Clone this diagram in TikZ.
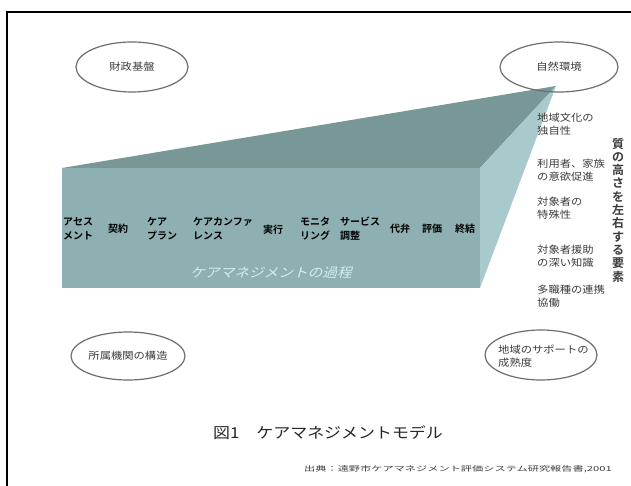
\documentclass[tikz,border=0pt]{standalone}
\usepackage{fontspec}
\usetikzlibrary{shapes.geometric}
\setmainfont{Noto Sans CJK JP}
\newfontfamily\cjk[BoldFont={Noto Sans CJK JP Bold}]{Noto Sans CJK JP}
\newfontfamily\cjkit[FakeSlant=0.25]{Noto Sans CJK JP}
\definecolor{topc}{RGB}{122,151,152}
\definecolor{frontc}{RGB}{143,176,178}
\definecolor{sidec}{RGB}{168,202,204}
\definecolor{ovlc}{RGB}{208,240,242}
\definecolor{ellc}{RGB}{110,110,110}
\definecolor{txtc}{RGB}{60,60,60}
\newcommand{\sx}[1]{\scalebox{1.13}[1]{#1}}
\newcommand{\twol}[2]{\sx{\begin{tabular}{@{}l@{}}#1\\#2\end{tabular}}}
\tikzset{
  ell/.style={ellipse, draw=ellc, line width=1.2pt, inner sep=0pt, text=txtc,
    font=\fontsize{10}{13}\selectfont\cjk},
  item/.style={anchor=west, inner sep=0pt, text=black,
    font=\fontsize{10}{14}\selectfont\cjk\bfseries},
  factor/.style={anchor=west, inner sep=0pt, text=txtc,
    font=\fontsize{10}{13}\selectfont\cjk},
}
\begin{document}
\begin{tikzpicture}[x=1pt,y=-1pt]
\useasboundingbox (0,0) rectangle (631,486);
\fill[white] (0,0) rectangle (631,486);
\draw[line width=1.5pt] (7,486) -- (7,12) -- (631,12);

% prism
\coordinate (A) at (62,168);
\coordinate (B) at (480,168);
\coordinate (C) at (480,288);
\coordinate (P) at (556,86);
\fill[topc] (A) -- (P) -- (B) -- cycle;
\fill[sidec] (B) -- (P) -- (C) -- cycle;
\fill[frontc] (A) rectangle (C);

% process items
\node[item] (i1) at (63,230) {\begin{tabular}{@{}l@{}}アセス\\メント\end{tabular}};
\node[item] (i2) at (108,229) {契約};
\node[item] (i3) at (147,230) {\begin{tabular}{@{}l@{}}ケア\\プラン\end{tabular}};
\node[item] (i4) at (193,230) {\begin{tabular}{@{}l@{}}ケアカンファ\\レンス\end{tabular}};
\node[item] (i5) at (263,230) {実行};
\node[item] (i6) at (300,230) {\begin{tabular}{@{}l@{}}モニタ\\リング\end{tabular}};
\node[item] (i7) at (340,230) {\begin{tabular}{@{}l@{}}サービス\\調整\end{tabular}};
\node[item] (i8) at (390,229) {代弁};
\node[item] (i9) at (422,229) {評価};
\node[item] (i10) at (455,229) {終結};

\node[inner sep=0pt, text=ovlc, font=\fontsize{13}{15}\selectfont\cjkit] (ovl) at (271,273) {\sx{ケアマネジメントの過程}};

% ellipses
\node[ell, minimum width=112pt, minimum height=50pt] (e1) at (132,67) {\sx{財政基盤}};
\node[ell, minimum width=118pt, minimum height=50pt] (e2) at (559,67) {\sx{自然環境}};
\node[ell, minimum width=114pt, minimum height=48pt] (e3) at (128,356) {\sx{所属機関の構造}};
\node[ell, minimum width=112pt, minimum height=50pt] (e4) at (541,355) {};
\node[factor] (e4t) at (498,357) {\twol{地域のサポートの}{成熟度}};

% factors
\node[factor] (f1) at (537,125) {\twol{地域文化の}{独自性}};
\node[factor] (f2) at (537,171) {\twol{利用者、家族}{の意欲促進}};
\node[factor] (f3) at (537,209) {\twol{対象者の}{特殊性}};
\node[factor] (f4) at (537,257) {\twol{対象者援助}{の深い知識}};
\node[factor] (f5) at (537,297) {\twol{多職種の連携}{協働}};

\node[inner sep=0pt, text=txtc, align=center, font=\fontsize{12}{13.3}\selectfont\cjk\bfseries] (vt) at (618,210)
  {質\\の\\高\\さ\\を\\左\\右\\す\\る\\要\\素};

% title and source
\node[inner sep=0pt, text=black!85, font=\fontsize{15}{18}\selectfont\cjk] (title) at (328,433) {\sx{図1　ケアマネジメントモデル}};
\node[inner sep=0pt, text=txtc, font=\fontsize{7}{8}\selectfont\cjk] (src) at (458,469) {\scalebox{1.6}[1]{出典：遠野市ケアマネジメント評価システム研究報告書,2001}};
\end{tikzpicture}
\end{document}
